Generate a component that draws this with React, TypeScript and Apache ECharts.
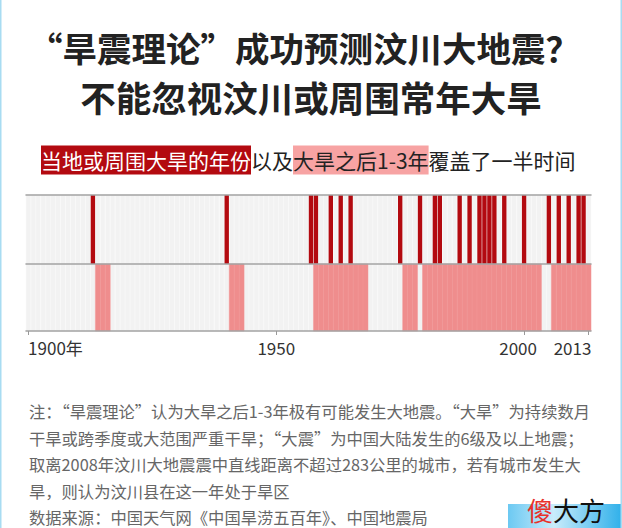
import React, { useEffect, useRef } from "react";
import * as echarts from "echarts";

const FIRST_YEAR = 1900;
const LAST_YEAR = 2013;
const years: string[] = [];
for (let y = FIRST_YEAR; y <= LAST_YEAR; y++) years.push(String(y));

// Years with a severe drought locally or nearby (dark red, top row)
const droughtYears = [
  1913, 1940, 1957, 1958, 1961, 1963, 1965, 1975, 1979, 1982, 1983, 1987, 1989,
  1991, 1992, 1993, 1994, 1996, 2000, 2005, 2007, 2009, 2011, 2012,
];
// Spans of years 1-3 years after a severe drought (pink, bottom row), inclusive
const afterDroughtSpans: [number, number][] = [
  [1914, 1916],
  [1941, 1943],
  [1958, 1968],
  [1976, 1978],
  [1980, 2003],
  [2006, 2013],
];
const labelYears = ["1900", "1950", "2000", "2013"];

const FONT = "'Noto Sans CJK SC', 'Noto Sans', sans-serif";

const noteLines = [
  "注：“旱震理论”认为大旱之后1-3年极有可能发生大地震。“大旱”为持续数月",
  "干旱或跨季度或大范围严重干旱；“大震”为中国大陆发生的6级及以上地震；",
  "取离2008年汶川大地震震中直线距离不超过283公里的城市，若有城市发生大",
  "旱，则认为汶川县在这一年处于旱区",
  "数据来源：中国天气网《中国旱涝五百年》、中国地震局",
];

function bandRenderer(fill: string, frac: number, stroke?: string) {
  return (params: any, api: any) => {
    const idx = api.value(0);
    const topPt = api.coord([idx, 1]);
    const botPt = api.coord([idx, 0]);
    const w = api.size([1, 0])[0] * frac;
    return {
      type: "rect",
      shape: { x: topPt[0] - w / 2, y: topPt[1], width: w, height: botPt[1] - topPt[1] },
      style: stroke ? { fill, stroke, lineWidth: 0.5 } : { fill },
    };
  };
}

export default function App() {
  const ref = useRef<HTMLDivElement>(null);
  useEffect(() => {
    if (!ref.current) return;
    const chart = echarts.init(ref.current, null, { renderer: "svg" });

    const allIdx = years.map((_, i) => [i]);
    const droughtIdx = droughtYears.map((y) => [years.indexOf(String(y))]);
    const afterIdx: number[][] = [];
    afterDroughtSpans.forEach(([a, b]) => {
      for (let y = a; y <= b; y++) afterIdx.push([years.indexOf(String(y))]);
    });

    const axisLineStyle = { color: "#a3a3a3", width: 1.5 };

    chart.setOption({
      animation: false,
      backgroundColor: "#ffffff",
      grid: [
        { left: 26, width: 565, top: 195, height: 69 },
        { left: 26, width: 565, top: 264, height: 67 },
      ],
      xAxis: [
        {
          type: "category", gridIndex: 0, data: years, position: "bottom", z: 10,
          axisLine: { lineStyle: axisLineStyle }, axisTick: { show: false },
          axisLabel: { show: false }, splitLine: { show: false },
        },
        {
          type: "category", gridIndex: 0, data: years, position: "top", z: 10,
          axisLine: { lineStyle: axisLineStyle }, axisTick: { show: false },
          axisLabel: { show: false }, splitLine: { show: false },
        },
        {
          type: "category", gridIndex: 1, data: years, position: "bottom", z: 10,
          axisLine: { lineStyle: axisLineStyle },
          axisTick: {
            show: true, alignWithLabel: true, length: 4,
            interval: (i: number, v: string) => labelYears.includes(v),
            lineStyle: { color: "#999" },
          },
          axisLabel: {
            interval: (i: number, v: string) => labelYears.includes(v),
            margin: 8,
            fontSize: 17,
            color: "#333",
            fontFamily: FONT,
            formatter: (v: string) => {
              if (v === "1900") return "{a|1900年}";
              if (v === "2000") return "{b|2000}";
              if (v === "2013") return "{c|2013}";
              return "{n|" + v + "}";
            },
            rich: {
              a: { fontSize: 17, color: "#333", fontFamily: FONT, padding: [0, 0, 0, 54] },
              b: { fontSize: 17, color: "#333", fontFamily: FONT, padding: [0, 12, 0, 0] },
              c: { fontSize: 17, color: "#333", fontFamily: FONT, padding: [0, 32, 0, 0] },
              n: { fontSize: 17, color: "#333", fontFamily: FONT },
            },
          },
          splitLine: { show: false },
        },
      ],
      yAxis: [
        { type: "value", gridIndex: 0, min: 0, max: 1, show: false },
        { type: "value", gridIndex: 1, min: 0, max: 1, show: false },
      ],
      series: [
        {
          type: "custom", xAxisIndex: 0, yAxisIndex: 0, silent: true,
          renderItem: bandRenderer("#f2f2f2", 1, "#fbfbfb"), data: allIdx, z: 1,
        },
        {
          type: "custom", xAxisIndex: 2, yAxisIndex: 1, silent: true,
          renderItem: bandRenderer("#f2f2f2", 1, "#fbfbfb"), data: allIdx, z: 1,
        },
        {
          type: "custom", xAxisIndex: 0, yAxisIndex: 0, silent: true,
          renderItem: bandRenderer("#b30a10", 0.88), data: droughtIdx, z: 2,
        },
        {
          type: "custom", xAxisIndex: 2, yAxisIndex: 1, silent: true,
          renderItem: bandRenderer("#ef8d8d", 1, "#f09595"), data: afterIdx, z: 2,
        },
      ],
      graphic: [
        { type: "rect", left: 0, top: 0, shape: { width: 1.5, height: 528 }, style: { fill: "#a8dcf2" }, z: 10 },
        { type: "rect", right: 0, top: 0, shape: { width: 1.5, height: 528 }, style: { fill: "#a8dcf2" }, z: 10 },
        {
          type: "text", x: 304, y: 47,
          style: {
            text: "“旱震理论”成功预测汶川大地震？", fill: "#222", fontSize: 34.5,
            fontWeight: "bold", fontFamily: FONT, align: "center", verticalAlign: "middle",
          },
        },
        {
          type: "text", x: 311, y: 96,
          style: {
            text: "不能忽视汶川或周围常年大旱", fill: "#222", fontSize: 35.5,
            fontWeight: "bold", fontFamily: FONT, align: "center", verticalAlign: "middle",
          },
        },
        {
          type: "text", x: 41, y: 160,
          style: {
            text: "{r|当地或周围大旱的年份}{n|以及}{p|大旱之后1-3年}{n|覆盖了一半时间}",
            verticalAlign: "middle", align: "left",
            rich: {
              r: { fontSize: 21, fontFamily: FONT, fill: "#fff", backgroundColor: "#b30a10", padding: [4, 0, 4, 0] },
              n: { fontSize: 21, fontFamily: FONT, fill: "#222", padding: [4, 0, 4, 0] },
              p: { fontSize: 21, fontFamily: FONT, fill: "#222", backgroundColor: "#f7a3a3", padding: [4, 0, 4, 0] },
            },
          },
        },
        {
          type: "text", x: 29, y: 398,
          style: {
            text: noteLines.join("\n"), fill: "#666", fontSize: 16.3, lineHeight: 26.5,
            fontFamily: FONT, align: "left", verticalAlign: "top",
          },
        },
        {
          type: "rect", left: 508, top: 504, shape: { width: 114, height: 24 },
          style: {
            fill: new echarts.graphic.LinearGradient(0, 0, 1, 0, [
              { offset: 0, color: "#6cc9f2" },
              { offset: 0.4, color: "#c9ecfb" },
              { offset: 1, color: "#2fb0ea" },
            ]),
          },
          z: 5,
        },
        {
          type: "text", x: 566, y: 509, z: 6,
          style: {
            text: "{r|傻}{b|大方}", align: "center", verticalAlign: "middle",
            rich: {
              r: { fontSize: 26, fontFamily: FONT, fill: "#e8322b" },
              b: { fontSize: 26, fontFamily: FONT, fill: "#111" },
            },
          },
        },
      ],
    });
    return () => chart.dispose();
  }, []);
  return (
    <div
      ref={ref}
      style={{ position: "fixed", left: 0, top: 0, width: 622, height: 528, background: "#fff" }}
    />
  );
}
